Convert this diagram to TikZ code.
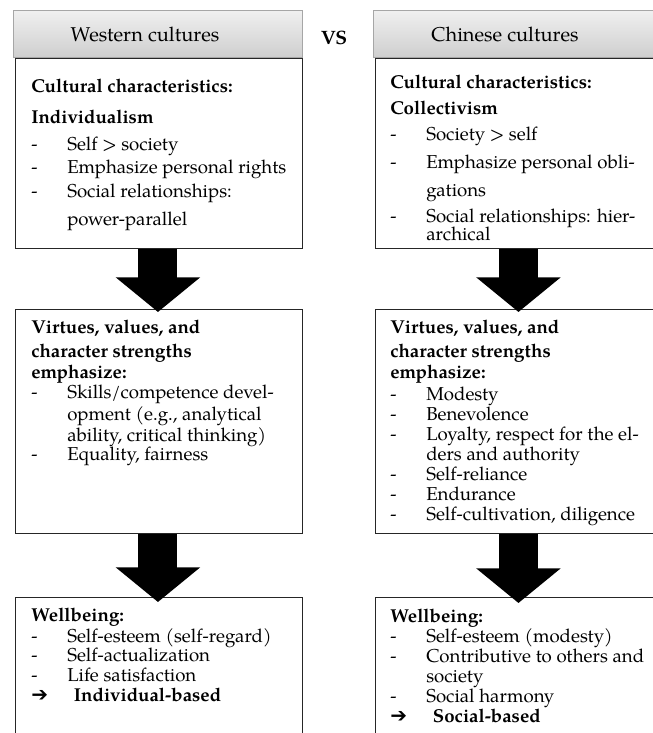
\documentclass[tikz,border=0pt]{standalone}
\usepackage{fontspec}
\setmainfont{TeX Gyre Pagella}
\newfontfamily\symfont{DejaVu Sans}
\usetikzlibrary{arrows.meta}

\newcommand{\hd}[1]{\multicolumn{2}{@{}l@{}}{\textbf{#1}}}
\newcommand{\arrowsym}{{\symfont\bfseries\fontsize{15}{15}\selectfont\symbol{"2794}}}

\tikzset{
	hdr/.style={draw=gray!70, line width=0.5pt, top color=gray!12, bottom color=gray!38, anchor=north west, inner sep=0pt},
	frame/.style={draw=black!85, line width=0.7pt, anchor=north west, inner sep=0pt},
	txt/.style={anchor=base west, inner sep=0pt, font=\fontsize{14}{15}\selectfont},
	bigarrow/.style={line width=29.25pt, -{Triangle[length=26pt, width=62pt]}},
}

\begin{document}
\begin{tikzpicture}[x=0.75pt, y=-0.75pt]
			\useasboundingbox (0,0) rectangle (653,733);

			% headers
			\node[hdr, minimum width=216.75pt, minimum height=35.25pt] (wh) at (13,10) {} ;
			\node[hdr, minimum width=216pt, minimum height=35.25pt] (ch) at (373,10) {} ;
			\node[font=\fontsize{15}{15}\selectfont] (whtxt) at (145,34) {Western cultures} ;
			\node[font=\fontsize{15}{15}\selectfont] (chtxt) at (505,34) {Chinese cultures} ;
			\node[font=\fontsize{14.5}{15}\selectfont\bfseries] (vs) at (334,38) {VS} ;

			% boxes
			\node[frame, minimum width=215.25pt, minimum height=142.5pt] (w1) at (15,58) {} ;
			\node[frame, minimum width=215.25pt, minimum height=168pt] (w2) at (15,309) {} ;
			\node[frame, minimum width=215.25pt, minimum height=122.25pt] (w3) at (15,597) {} ;
			\node[frame, minimum width=214.5pt, minimum height=142.5pt] (c1) at (375,58) {} ;
			\node[frame, minimum width=214.5pt, minimum height=168pt] (c2) at (375,309) {} ;
			\node[frame, minimum width=214.5pt, minimum height=122.25pt] (c3) at (375,597) {} ;

			% arrows
			\draw[bigarrow] ([xshift=-0.75pt]w1.south) -- ([xshift=-0.75pt, yshift=-2.25pt]w2.north) ;
			\draw[bigarrow] ([xshift=-0.75pt]w2.south) -- ([xshift=-0.75pt, yshift=-3.75pt]w3.north) ;
			\draw[bigarrow] (c1.south) -- ([yshift=-2.25pt]c2.north) ;
			\draw[bigarrow] (c2.south) -- ([yshift=-4.5pt]c3.north) ;

			% western column
			\node[txt] (w1txt) at (31,92) {\begin{tabular}[t]{@{}p{27pt}@{}l@{}}
				\hd{Cultural characteristics:}\\[8.25pt]
				\hd{Individualism}\\[5.25pt]
				- & Self > society\\[2.25pt]
				- & Emphasize personal rights\\[3pt]
				- & Social relationships:\\[6pt]
				  & power-parallel
			\end{tabular}} ;
			\node[txt] (w2txt) at (31,333) {\begin{tabular}[t]{@{}p{27pt}@{}l@{}}
				\hd{Virtues, values, and}\\[3pt]
				\hd{character strengths}\\[0.75pt]
				\hd{emphasize:}\\
				- & Skills/competence devel-\\[1.5pt]
				  & opment (e.g., analytical\\[0.75pt]
				  & ability, critical thinking)\\[-0.75pt]
				- & Equality, fairness
			\end{tabular}} ;
			\node[txt] (w3txt) at (31,621) {\begin{tabular}[t]{@{}p{27pt}@{}l@{}}
				\hd{Wellbeing:}\\[0.75pt]
				- & Self-esteem (self-regard)\\[-0.75pt]
				- & Self-actualization\\
				- & Life satisfaction\\
				\arrowsym & \hspace{5pt}\textbf{Individual-based}
			\end{tabular}} ;

			% chinese column
			\node[txt] (c1txt) at (390,88) {\begin{tabular}[t]{@{}p{27pt}@{}l@{}}
				\hd{Cultural characteristics:}\\[4.5pt]
				\hd{Collectivism}\\[4.5pt]
				- & Society > self\\[6pt]
				- & Emphasize personal obli-\\[6pt]
				  & gations\\[4.5pt]
				- & Social relationships: hier-\\[-1.5pt]
				  & archical
			\end{tabular}} ;
			\node[txt] (c2txt) at (390,333) {\begin{tabular}[t]{@{}p{27pt}@{}l@{}}
				\hd{Virtues, values, and}\\[3pt]
				\hd{character strengths}\\[0.75pt]
				\hd{emphasize:}\\[1.5pt]
				- & Modesty\\
				- & Benevolence\\
				- & Loyalty, respect for the el-\\
				  & ders and authority\\
				- & Self-reliance\\
				- & Endurance\\
				- & Self-cultivation, diligence
			\end{tabular}} ;
			\node[txt] (c3txt) at (390,622) {\begin{tabular}[t]{@{}p{27pt}@{}l@{}}
				\hd{Wellbeing:}\\
				- & Self-esteem (modesty)\\
				- & Contributive to others and\\
				  & society\\
				- & Social harmony\\
				\arrowsym & \hspace{5pt}\textbf{Social-based}
			\end{tabular}} ;
		\end{tikzpicture}
\end{document}
